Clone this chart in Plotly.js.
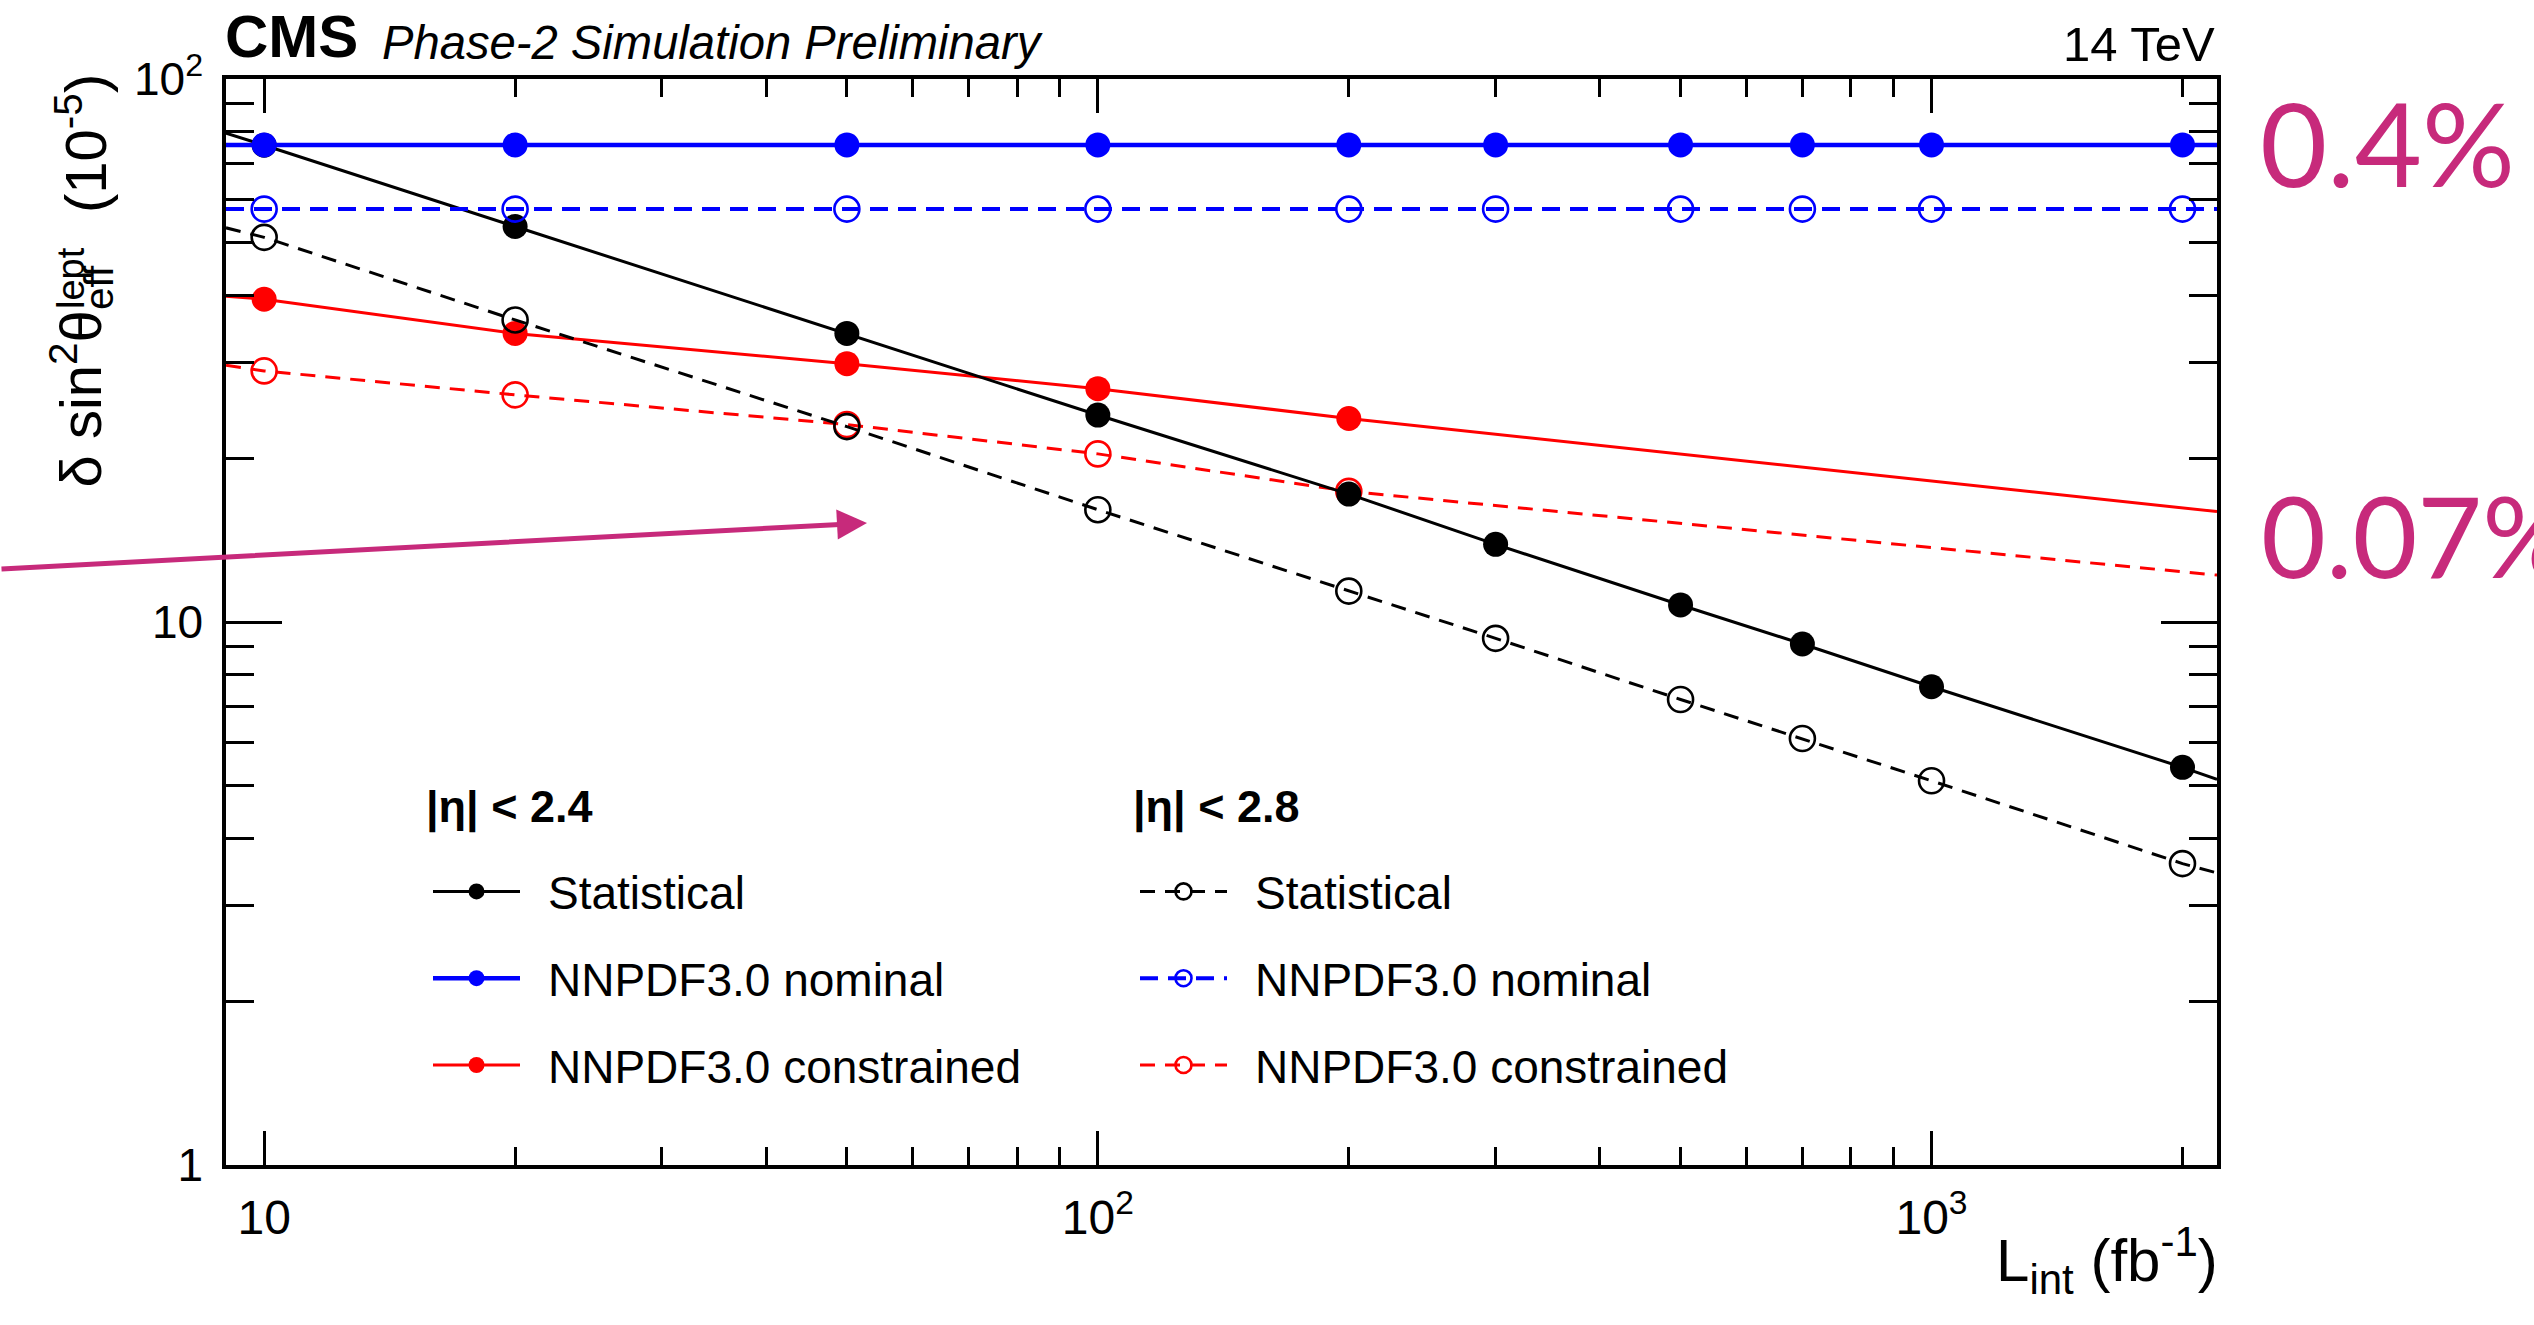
<!DOCTYPE html>
<html>
<head>
<meta charset="utf-8">
<script src="https://cdn.plot.ly/plotly-3.0.1.min.js"></script>
<style>
html,body{margin:0;padding:0;background:#ffffff;}
#chart{width:2534px;height:1325px;}
</style>
</head>
<body>
<div id="chart"></div>
<script>
// ---------------- data ----------------
const lumi = [10, 20, 50, 100, 200, 300, 500, 700, 1000, 2000];           // fb^-1
const lumiConstrained = [10, 20, 50, 100, 200];
const xEdges = [9, 2200];                                                 // frame edges of the x axis

const statEta24 = [75.5, 53.5, 34.0, 24.05, 17.2, 13.9, 10.75, 9.11, 7.60, 5.40];
const statEta28 = [51.1, 36.0, 22.9, 16.1, 11.4, 9.33, 7.20, 6.10, 5.10, 3.59];
const nominalEta24 = [75.6, 75.6, 75.6, 75.6, 75.6, 75.6, 75.6, 75.6, 75.6, 75.6];
const nominalEta28 = [57.6, 57.6, 57.6, 57.6, 57.6, 57.6, 57.6, 57.6, 57.6, 57.6];
const constrainedEta24 = [39.3, 34.0, 29.9, 26.9, 23.7];
const constrainedEta28 = [29.0, 26.2, 23.1, 20.4, 17.4];

// values of the drawn curves where they meet the frame (x = 9 and x = 2200)
const statEta24Edges = [79.5, 5.13];
const statEta28Edges = [53.2, 3.45];
const nominalEta24Edges = [75.6, 75.6];
const nominalEta28Edges = [57.6, 57.6];
const constrainedEta24Edges = [39.8, 15.97];
const constrainedEta28Edges = [29.7, 12.2];

const seriesNames = ["Statistical", "NNPDF3.0 nominal", "NNPDF3.0 constrained"];
const legendTitles = ["|η| &lt; 2.4", "|η| &lt; 2.8"];

const xTickVals = [10, 100, 1000];
const xTickText = ["10", "10<sup>2</sup>", "10<sup>3</sup>"];
const yTickVals = [1, 10, 100];
const yTickText = ["1", "10", "10<sup>2</sup>"];

// ---------------- helpers ----------------
const W = 2534, H = 1325;
const M = {l: 226, r: 317, t: 79, b: 160};
const PW = W - M.l - M.r, PH = H - M.t - M.b;
const px = v => (v - M.l) / PW;
const py = v => (H - M.b - v) / PH;
const FONT = "Liberation Sans, Arial, Helvetica, sans-serif";
const MAG = "#c72a7b";

function minorTicks(d0, d1) {
  const out = [];
  for (let e = d0; e <= d1; e++) for (let k = 2; k <= 9; k++) out.push(k * Math.pow(10, e));
  return out;
}

function makeTrace(name, xs, ys, edges, color, filled, dash, lw, legend, rank) {
  return {
    type: "scatter",
    mode: "lines+markers",
    name: "\u2002" + name,
    legend: legend,
    legendrank: rank,
    legendgroup: legend + name,
    x: [xEdges[0]].concat(xs, [xEdges[1]]),
    y: [edges[0]].concat(ys, [edges[1]]),
    line: {color: color, width: lw, dash: dash},
    marker: {
      symbol: filled ? "circle" : "circle-open",
      size: [0].concat(xs.map(() => 25), [0]),
      opacity: 1,
      color: color,
      line: {color: color, width: filled ? 0 : 2.6}
    },
    hoverinfo: "x+y+name"
  };
}

const DASH = "15px,10px";
const traces = [
  makeTrace(seriesNames[2], lumiConstrained, constrainedEta28, constrainedEta28Edges, "#ff0000", false, DASH, 3, "legend2", 3),
  makeTrace(seriesNames[2], lumiConstrained, constrainedEta24, constrainedEta24Edges, "#ff0000", true, "solid", 3, "legend", 3),
  makeTrace(seriesNames[0], lumi, statEta28, statEta28Edges, "#000000", false, DASH, 3, "legend2", 1),
  makeTrace(seriesNames[0], lumi, statEta24, statEta24Edges, "#000000", true, "solid", 3, "legend", 1),
  makeTrace(seriesNames[1], lumi, nominalEta28, nominalEta28Edges, "#0000ff", false, "18px,10px", 4, "legend2", 2),
  makeTrace(seriesNames[1], lumi, nominalEta24, nominalEta24Edges, "#0000ff", true, "solid", 4.5, "legend", 2)
];

const axisCommon = {
  type: "log",
  showgrid: false,
  zeroline: false,
  showline: true,
  linecolor: "#000000",
  linewidth: 3.5,
  mirror: "ticks",
  ticks: "inside",
  tickcolor: "#000000",
  tickwidth: 3,
  tickmode: "array",
  tickfont: {family: FONT, size: 46, color: "#000000"}
};

const legendCommon = {
  bgcolor: "rgba(0,0,0,0)",
  borderwidth: 0,
  font: {family: FONT, size: 46, color: "#000000"},
  traceorder: "grouped",
  tracegroupgap: 24,
  itemwidth: 87,
  xanchor: "left",
  yanchor: "top",
  itemclick: false,
  itemdoubleclick: false
};

const layout = {
  width: W, height: H,
  autosize: false,
  margin: M,
  paper_bgcolor: "#ffffff",
  plot_bgcolor: "#ffffff",
  showlegend: true,
  xaxis: Object.assign({}, axisCommon, {
    range: [Math.log10(xEdges[0]), Math.log10(xEdges[1])],
    tickvals: xTickVals, ticktext: xTickText,
    ticklen: 34,
    ticklabelstandoff: 8,
    tickfont: {family: FONT, size: 48, color: "#000000"},
    minor: {tickmode: "array", tickvals: minorTicks(1, 3).filter(v => v <= 2200), ticks: "inside", ticklen: 18, tickwidth: 3, tickcolor: "#000000"}
  }),
  yaxis: Object.assign({}, axisCommon, {
    range: [0, 2],
    tickvals: yTickVals, ticktext: yTickText,
    ticklen: 56,
    ticklabelstandoff: 10,
    minor: {tickmode: "array", tickvals: minorTicks(0, 1), ticks: "inside", ticklen: 28, tickwidth: 3, tickcolor: "#000000"}
  }),
  yaxis2: {
    type: "log", overlaying: "y", side: "right", anchor: "x",
    range: [0, 2], tickmode: "array", tickvals: yTickVals, ticktext: yTickText,
    showgrid: false, zeroline: false, showline: false, ticks: "",
    ticklabelstandoff: 32,
    tickfont: {family: FONT, size: 46, color: "#000000"}
  },
  legend: Object.assign({}, legendCommon, {x: px(428), y: py(855)}),
  legend2: Object.assign({}, legendCommon, {x: px(1135), y: py(855)}),
  annotations: [
    {text: "<b>CMS</b>", xref: "paper", yref: "paper", x: px(223), y: py(37), xanchor: "left", yanchor: "middle",
     showarrow: false, font: {family: FONT, size: 60, color: "#000000"}},
    {text: "<i>Phase-2 Simulation Preliminary</i>", xref: "paper", yref: "paper", x: px(380), y: py(42), xanchor: "left", yanchor: "middle",
     showarrow: false, font: {family: FONT, size: 47.2, color: "#000000"}},
    {text: "14 TeV", xref: "paper", yref: "paper", x: px(2217), y: py(44), xanchor: "right", yanchor: "middle",
     showarrow: false, font: {family: FONT, size: 49, color: "#000000"}},
    // legend headers
    {text: "<b>" + legendTitles[0] + "</b>", xref: "paper", yref: "paper", x: px(424), y: py(807), xanchor: "left", yanchor: "middle",
     showarrow: false, font: {family: FONT, size: 45, color: "#000000"}},
    {text: "<b>" + legendTitles[1] + "</b>", xref: "paper", yref: "paper", x: px(1131), y: py(807), xanchor: "left", yanchor: "middle",
     showarrow: false, font: {family: FONT, size: 45, color: "#000000"}},
    // y axis title, drawn in three pieces so that "lept" sits above "eff"
    {text: "δ sin<sup>2</sup>θ<sub>eff</sub>", xref: "paper", yref: "paper", x: px(124), y: py(490), xanchor: "right", yanchor: "bottom",
     textangle: -90, showarrow: false, font: {family: FONT, size: 58, color: "#000000"}},
    {text: "lept", xref: "paper", yref: "paper", x: px(94), y: py(311), xanchor: "right", yanchor: "bottom",
     textangle: -90, showarrow: false, font: {family: FONT, size: 38, color: "#000000"}},
    {text: "(10<sup>-5</sup>)", xref: "paper", yref: "paper", x: px(120), y: py(72), xanchor: "right", yanchor: "top",
     textangle: -90, showarrow: false, font: {family: FONT, size: 58, color: "#000000"}},
    // x axis title
    {text: "L<sub>int</sub> (fb<sup>-1</sup>)", xref: "paper", yref: "paper", x: px(2220), y: py(1216), xanchor: "right", yanchor: "top",
     showarrow: false, font: {family: FONT, size: 60, color: "#000000"}},
    // magenta overlay annotations
    {text: "0.4%", xref: "paper", yref: "paper", x: px(2258), y: py(142), xanchor: "left", yanchor: "middle",
     showarrow: false, font: {family: "Lato, sans-serif", size: 116, color: MAG}},
    {text: "0.07%", xref: "paper", yref: "paper", x: px(2259), y: py(534), xanchor: "left", yanchor: "middle",
     showarrow: false, font: {family: "Lato, sans-serif", size: 112, color: MAG}},
    {text: "", xref: "paper", yref: "paper", x: px(867), y: py(523), ax: -890, ay: 46,
     showarrow: true, arrowhead: 2, arrowsize: 1.2, arrowwidth: 5, arrowcolor: MAG, standoff: 0}
  ]
};

Plotly.newPlot("chart", traces, layout, {displayModeBar: false, staticPlot: false, responsive: false});
</script>
</body>
</html>
